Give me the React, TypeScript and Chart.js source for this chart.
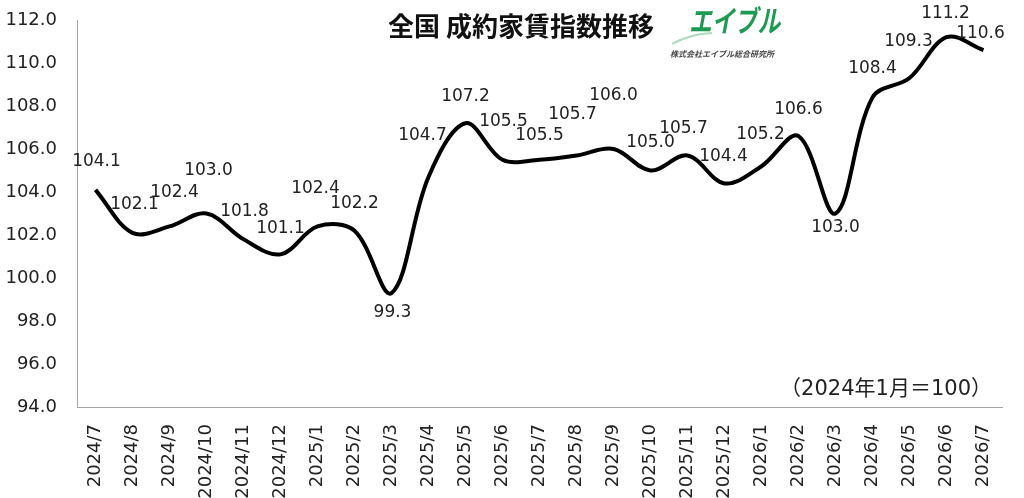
import React, { useEffect, useRef } from "react";
import { Chart, registerables } from "chart.js";

Chart.register(...registerables);

const categories = [
  "2024/7", "2024/8", "2024/9", "2024/10", "2024/11", "2024/12",
  "2025/1", "2025/2", "2025/3", "2025/4", "2025/5", "2025/6",
  "2025/7", "2025/8", "2025/9", "2025/10", "2025/11", "2025/12",
  "2026/1", "2026/2", "2026/3", "2026/4", "2026/5", "2026/6", "2026/7",
];

const indexValues = [
  104.1, 102.1, 102.4, 103.0, 101.8, 101.1,
  102.4, 102.2, 99.3, 104.7, 107.2, 105.5,
  105.5, 105.7, 106.0, 105.0, 105.7, 104.4,
  105.2, 106.6, 103.0, 108.4, 109.3, 111.2, 110.6,
];

// label offsets relative to each point (style only)
const labelOffsets: [number, number][] = [
  [1, -28], [2, -28], [5, -34], [2, -43], [1, -28], [0, -26],
  [-2, -38], [0, -27], [1, 20], [-6, -41], [0, -27], [1, -38],
  [0, -24], [-4, -41], [0, -53], [0, -28], [-4, -27], [-1, -27],
  [-1, -32], [0, -27], [0, 14], [0, -29], [-1, -36], [-1, -24], [-3, -17],
];

const yMin = 94;
const yMax = 112;
const yStep = 2;

const titleText = "全国 成約家賃指数推移";
const baseNote = "（2024年1月＝100）";
const logoText = "エイブル";
const logoSub = "株式会社エイブル総合研究所";

const LATIN = '"DejaVu Sans", "Noto Sans CJK JP", sans-serif';
const CJK = '"Noto Sans CJK JP", sans-serif';

const overlayPlugin = {
  id: "overlay",
  afterDatasetsDraw(chart: any) {
    const ctx = chart.ctx;
    const meta = chart.getDatasetMeta(0);
    ctx.save();
    ctx.font = `17px ${LATIN}`;
    ctx.fillStyle = "#222";
    ctx.textAlign = "center";
    ctx.textBaseline = "middle";
    meta.data.forEach((pt: any, i: number) => {
      const [dx, dy] = labelOffsets[i] || [0, -28];
      ctx.fillText(indexValues[i].toFixed(1), pt.x + dx, pt.y + dy);
    });
    ctx.restore();
  },
  afterDraw(chart: any) {
    const ctx = chart.ctx;
    const area = chart.chartArea;
    ctx.save();
    // title
    ctx.font = `bold 26px ${CJK}`;
    ctx.fillStyle = "#111";
    ctx.textAlign = "left";
    ctx.textBaseline = "middle";
    ctx.fillText(titleText, 388, 26);

    // logo swoosh
    ctx.strokeStyle = "#a8dcbc";
    ctx.lineWidth = 2;
    ctx.beginPath();
    ctx.moveTo(672, 44);
    ctx.quadraticCurveTo(690, 34, 712, 33);
    ctx.stroke();
    // logo text (horizontally condensed)
    ctx.save();
    ctx.translate(689, 21);
    ctx.scale(0.76, 1);
    ctx.font = `italic bold 30px ${CJK}`;
    ctx.fillStyle = "#1e9b52";
    ctx.textAlign = "left";
    ctx.fillText(logoText, 0, 0);
    ctx.restore();
    ctx.font = `italic bold 8px ${CJK}`;
    ctx.fillStyle = "#444";
    ctx.fillText(logoSub, 670, 54);

    // base note
    ctx.font = `21px ${LATIN}`;
    ctx.fillStyle = "#222";
    ctx.textAlign = "right";
    ctx.fillText(baseNote, area.right - 10, 390);
    ctx.restore();
  },
};

export default function App() {
  const canvasRef = useRef<HTMLCanvasElement | null>(null);

  useEffect(() => {
    document.body.style.margin = "0";
    const canvas = canvasRef.current;
    if (!canvas) return;
    const chart = new Chart(canvas, {
      type: "line",
      data: {
        labels: categories,
        datasets: [
          {
            data: indexValues,
            borderColor: "#000",
            borderWidth: 4,
            pointRadius: 0,
            tension: 0.35,
            fill: false,
          },
        ],
      },
      options: {
        animation: false,
        responsive: false,
        maintainAspectRatio: false,
        layout: { padding: { top: 20, right: 22, bottom: 0, left: 0 } },
        plugins: {
          legend: { display: false },
          tooltip: { enabled: false },
          title: { display: false },
        },
        scales: {
          x: {
            offset: true,
            grid: { display: true, drawOnChartArea: false, drawTicks: false },
            border: { display: true, color: "#a6a6a6", width: 1 },
            ticks: {
              autoSkip: false,
              minRotation: 90,
              maxRotation: 90,
              padding: 17,
              color: "#222",
              font: { family: LATIN, size: 18 },
            },
            afterFit(scale: any) {
              scale.height = 91;
              scale.paddingTop = 0;
              scale.paddingBottom = 0;
              scale.paddingLeft = 0;
              scale.paddingRight = 0;
            },
          },
          y: {
            min: yMin,
            max: yMax,
            grid: { display: true, drawOnChartArea: false, drawTicks: false },
            border: { display: true, color: "#a6a6a6", width: 1 },
            ticks: {
              stepSize: yStep,
              padding: 20,
              color: "#222",
              font: { family: LATIN, size: 18 },
              callback: (v: any) => Number(v).toFixed(1),
            },
            afterFit(scale: any) {
              scale.width = 77;
              scale.paddingTop = 0;
              scale.paddingBottom = 0;
              scale.paddingLeft = 0;
              scale.paddingRight = 0;
            },
          },
        },
      },
      plugins: [overlayPlugin],
    });
    return () => chart.destroy();
  }, []);

  return (
    <div style={{ position: "fixed", left: 0, top: 0, width: 1024, height: 498 }}>
      <canvas ref={canvasRef} width={1024} height={498} style={{ width: 1024, height: 498 }} />
    </div>
  );
}
